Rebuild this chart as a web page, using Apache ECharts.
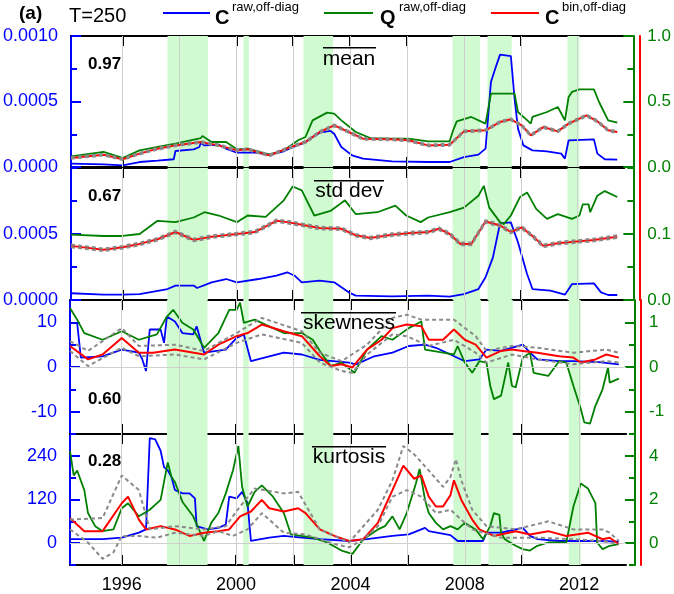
<!DOCTYPE html>
<html><head><meta charset="utf-8">
<script src="https://cdn.jsdelivr.net/npm/echarts@6/dist/echarts.min.js"></script>
<style>html,body{margin:0;padding:0;background:#fff}#c{width:674px;height:594px}</style>
</head><body><div id="c"></div>
<script>
// ---------------- data ----------------
const yearTicks = [1996,1998,2000,2002,2004,2006,2008,2010,2012];
const yearLabels = [1996,2000,2004,2008,2012];
const shadedPeriods = [[1997.58,1999.0],[2000.25,2000.44],[2002.36,2003.40],[2007.60,2008.57],[2008.83,2009.68],[2011.64,2012.06]];
const panelNames = ['mean','std dev','skewness','kurtosis'];
const panelCorr = ['0.97','0.67','0.60','0.28'];

// tick values / labels
const meanLeftTicks = [0,0.0005,0.001];
const meanRightTicks = [0,0.5,1];
const stdLeftTicks = [0,0.0005];
const stdRightTicks = [0,0.1];
const skewLeftTicks = [-10,0,10];
const skewRightTicks = [-1,0,1];
const kurtLeftTicks = [0,120,240];
const kurtRightTicks = [0,2,4];

// mean panel
const meanBlue = [[1994.19,0.000025],[1995.33,0.00002],[1996.00,0.000013],[1996.60,0.000038],[1997.23,0.000048],[1997.80,0.000059],[1997.86,0.000122],[1998.50,0.000135],[1998.70,0.000153],[1998.75,0.000183],[1998.88,0.000165],[1999.38,0.00017],[1999.64,0.00014],[2000.02,0.000109],[2000.65,0.000109],[2001.16,0.000094],[2001.67,0.00012],[2001.92,0.000145],[2002.43,0.00019],[2002.68,0.000229],[2002.93,0.000262],[2003.31,0.000275],[2003.44,0.000254],[2003.69,0.000153],[2004.07,0.000089],[2004.45,0.000064],[2005.47,0.000043],[2006.74,0.000038],[2007.50,0.000038],[2008.00,0.000076],[2008.51,0.000094],[2008.76,0.00014],[2008.95,0.000649],[2009.14,0.000776],[2009.27,0.000858],[2009.65,0.000847],[2009.78,0.000522],[2009.90,0.000293],[2010.09,0.000165],[2010.41,0.000127],[2010.92,0.00012],[2011.42,0.000102],[2011.55,0.000064],[2011.68,0.000204],[2012.57,0.000211],[2012.69,0.000102],[2012.95,0.000059],[2013.39,0.000056]];
const meanGreen = [[1994.19,0.081],[1995.33,0.115],[1996.00,0.069],[1996.60,0.127],[1997.23,0.153],[1997.86,0.178],[1998.75,0.221],[1998.81,0.237],[1999.13,0.191],[1999.64,0.191],[2000.02,0.135],[2000.40,0.14],[2001.16,0.094],[2001.67,0.127],[2002.17,0.204],[2002.43,0.229],[2002.68,0.356],[2003.19,0.415],[2003.44,0.407],[2003.69,0.356],[2004.20,0.267],[2004.71,0.221],[2005.47,0.216],[2006.04,0.216],[2006.74,0.196],[2007.50,0.196],[2007.62,0.28],[2007.75,0.349],[2008.26,0.382],[2008.76,0.331],[2008.95,0.56],[2009.78,0.56],[2009.90,0.42],[2010.16,0.369],[2010.35,0.331],[2010.41,0.382],[2010.92,0.42],[2011.30,0.458],[2011.55,0.356],[2011.68,0.534],[2011.80,0.573],[2012.06,0.593],[2012.57,0.593],[2012.75,0.496],[2013.07,0.356],[2013.39,0.338]];
const meanRed = [[1994.19,0.069],[1995.33,0.094],[1996.00,0.059],[1996.60,0.102],[1997.23,0.14],[1997.86,0.165],[1998.75,0.191],[1999.38,0.165],[2000.02,0.127],[2000.40,0.135],[2001.16,0.089],[2001.92,0.153],[2002.43,0.191],[2002.93,0.267],[2003.44,0.318],[2003.95,0.267],[2004.45,0.216],[2005.47,0.211],[2006.04,0.204],[2006.74,0.165],[2007.50,0.17],[2008.00,0.272],[2008.76,0.28],[2009.27,0.344],[2009.65,0.364],[2010.03,0.318],[2010.35,0.242],[2010.79,0.305],[2011.30,0.272],[2011.68,0.331],[2012.31,0.394],[2012.69,0.349],[2013.07,0.28],[2013.39,0.267]];
const meanGrayHi = [[1994.19,0.075],[1995.33,0.1],[1996.00,0.066],[1996.60,0.108],[1997.23,0.147],[1997.86,0.172],[1998.75,0.198],[1999.38,0.172],[2000.02,0.134],[2000.40,0.142],[2001.16,0.096],[2001.92,0.16],[2002.43,0.198],[2002.93,0.274],[2003.44,0.326],[2003.95,0.275],[2004.45,0.223],[2005.47,0.218],[2006.04,0.211],[2006.74,0.172],[2007.50,0.177],[2008.00,0.279],[2008.76,0.287],[2009.27,0.351],[2009.65,0.371],[2010.03,0.325],[2010.35,0.249],[2010.79,0.312],[2011.30,0.279],[2011.68,0.338],[2012.31,0.401],[2012.69,0.356],[2013.07,0.287],[2013.39,0.274]];
const meanGrayLo = [[1994.19,0.063],[1995.33,0.088],[1996.00,0.053],[1996.60,0.096],[1997.23,0.133],[1997.86,0.158],[1998.75,0.184],[1999.38,0.158],[2000.02,0.12],[2000.40,0.128],[2001.16,0.082],[2001.92,0.146],[2002.43,0.184],[2002.93,0.26],[2003.44,0.31],[2003.95,0.26],[2004.45,0.209],[2005.47,0.204],[2006.04,0.197],[2006.74,0.158],[2007.50,0.163],[2008.00,0.265],[2008.76,0.273],[2009.27,0.337],[2009.65,0.357],[2010.03,0.311],[2010.35,0.235],[2010.79,0.298],[2011.30,0.265],[2011.68,0.324],[2012.31,0.387],[2012.69,0.342],[2013.07,0.273],[2013.39,0.26]];

// std dev panel
const stdBlue = [[1994.19,0.000051],[1995.33,0.00004],[1996.00,0.00004],[1996.60,0.000045],[1997.58,0.000083],[1997.86,0.000109],[1998.50,0.000109],[1998.62,0.000091],[1999.13,0.000134],[1999.64,0.000159],[2000.02,0.000134],[2000.78,0.000159],[2001.41,0.000184],[2001.79,0.00021],[2002.05,0.000184],[2002.30,0.000134],[2002.93,0.000146],[2003.44,0.000134],[2003.95,0.000058],[2004.20,0.000033],[2005.47,0.000028],[2006.74,0.000033],[2007.50,0.000025],[2008.00,0.000045],[2008.51,0.000083],[2008.76,0.000172],[2009.02,0.000323],[2009.27,0.000581],[2009.65,0.000588],[2009.90,0.000437],[2010.22,0.000197],[2010.41,0.000083],[2011.04,0.000071],[2011.55,0.00004],[2011.80,0.000121],[2012.57,0.000126],[2012.82,0.000058],[2013.07,0.000038],[2013.39,0.000038]];
const stdGreen = [[1994.19,0.099],[1995.33,0.097],[1996.00,0.097],[1996.60,0.1],[1997.23,0.12],[1997.86,0.118],[1998.50,0.125],[1998.88,0.133],[1999.38,0.128],[2000.02,0.118],[2000.40,0.128],[2001.03,0.126],[2001.67,0.151],[2001.98,0.172],[2002.30,0.166],[2002.74,0.128],[2003.31,0.135],[2003.82,0.151],[2004.20,0.13],[2004.96,0.133],[2005.59,0.143],[2005.97,0.128],[2006.48,0.118],[2006.74,0.125],[2007.50,0.133],[2008.00,0.14],[2008.51,0.158],[2008.70,0.173],[2008.89,0.14],[2009.27,0.118],[2009.40,0.115],[2009.65,0.128],[2009.97,0.156],[2010.22,0.163],[2010.54,0.138],[2010.92,0.123],[2011.30,0.13],[2011.80,0.123],[2012.06,0.128],[2012.18,0.145],[2012.38,0.145],[2012.44,0.133],[2012.69,0.158],[2012.95,0.165],[2013.39,0.156]];
const stdRed = [[1994.19,0.082],[1995.33,0.076],[1996.00,0.08],[1996.60,0.085],[1997.23,0.092],[1997.86,0.103],[1998.50,0.091],[1999.13,0.096],[2000.02,0.1],[2000.65,0.103],[2001.41,0.12],[2001.79,0.118],[2002.30,0.114],[2002.93,0.109],[2003.69,0.108],[2004.20,0.098],[2004.71,0.094],[2005.47,0.099],[2006.04,0.101],[2006.74,0.103],[2007.12,0.108],[2007.50,0.1],[2007.88,0.085],[2008.26,0.085],[2008.76,0.119],[2009.27,0.113],[2009.65,0.103],[2010.03,0.11],[2010.41,0.097],[2010.79,0.082],[2011.30,0.086],[2012.06,0.089],[2012.57,0.091],[2013.39,0.096]];
const stdGrayHi = [[1994.19,0.084],[1995.33,0.078],[1996.00,0.082],[1996.60,0.087],[1997.23,0.094],[1997.86,0.105],[1998.50,0.093],[1999.13,0.098],[2000.02,0.102],[2000.65,0.105],[2001.41,0.122],[2001.79,0.12],[2002.30,0.116],[2002.93,0.111],[2003.69,0.11],[2004.20,0.1],[2004.71,0.096],[2005.47,0.101],[2006.04,0.103],[2006.74,0.105],[2007.12,0.11],[2007.50,0.102],[2007.88,0.087],[2008.26,0.087],[2008.76,0.121],[2009.27,0.115],[2009.65,0.105],[2010.03,0.112],[2010.41,0.099],[2010.79,0.084],[2011.30,0.088],[2012.06,0.091],[2012.57,0.093],[2013.39,0.098]];
const stdGrayLo = [[1994.19,0.08],[1995.33,0.074],[1996.00,0.078],[1996.60,0.083],[1997.23,0.09],[1997.86,0.101],[1998.50,0.089],[1999.13,0.094],[2000.02,0.098],[2000.65,0.101],[2001.41,0.118],[2001.79,0.116],[2002.30,0.112],[2002.93,0.107],[2003.69,0.106],[2004.20,0.096],[2004.71,0.092],[2005.47,0.097],[2006.04,0.099],[2006.74,0.101],[2007.12,0.106],[2007.50,0.098],[2007.88,0.083],[2008.26,0.083],[2008.76,0.117],[2009.27,0.111],[2009.65,0.101],[2010.03,0.108],[2010.41,0.095],[2010.79,0.08],[2011.30,0.084],[2012.06,0.087],[2012.57,0.089],[2013.39,0.094]];

// skewness panel
const skewBlue = [[1994.19,9.9],[1994.44,9.9],[1994.57,2.1],[1995.33,2.4],[1996.00,3.9],[1996.60,3.2],[1996.72,1.7],[1996.85,-0.9],[1996.98,8.4],[1997.36,8.4],[1997.48,5.4],[1997.58,11.3],[1997.86,10.2],[1998.12,7.6],[1998.50,7.3],[1998.62,9.1],[1998.88,3.2],[1999.64,3.9],[2000.02,6.5],[2000.27,7.3],[2000.52,1.3],[2001.16,2.4],[2001.67,3.2],[2002.30,2.8],[2002.93,1.6],[2003.95,1.0],[2004.20,0.6],[2004.83,2.4],[2005.47,3.2],[2006.04,4.7],[2006.61,5.0],[2006.99,4.3],[2007.50,2.8],[2008.00,1.3],[2008.51,1.7],[2008.76,3.9],[2009.27,3.6],[2010.03,5.0],[2010.28,3.2],[2010.54,1.7],[2011.30,1.3],[2011.80,1.3],[2012.69,1.1],[2013.39,0.6]];
const skewGreen = [[1994.19,1.32],[1994.44,1.06],[1994.69,0.76],[1995.33,0.61],[1996.00,0.8],[1996.60,0.61],[1997.23,0.73],[1997.58,1.13],[1997.80,1.28],[1998.12,0.99],[1998.50,0.84],[1998.88,0.43],[1999.38,0.76],[1999.76,1.28],[2000.02,1.28],[2000.14,1.44],[2000.27,0.99],[2000.65,1.06],[2001.16,0.91],[2001.67,0.76],[2002.30,0.76],[2002.68,0.61],[2002.93,0.36],[2003.31,0.02],[2003.69,0.1],[2004.14,-0.13],[2004.58,0.39],[2005.09,0.69],[2005.47,0.61],[2006.04,0.87],[2006.48,1.02],[2006.61,0.39],[2007.24,0.32],[2007.62,0.28],[2007.75,0.47],[2008.00,0.1],[2008.26,-0.13],[2008.51,0.13],[2008.76,0.1],[2008.89,-0.42],[2009.02,-0.72],[2009.27,-0.64],[2009.52,0.1],[2009.65,-0.42],[2009.78,-0.46],[2010.03,0.21],[2010.28,0.32],[2010.41,-0.13],[2010.92,-0.2],[2011.30,0.13],[2011.55,0.1],[2011.80,-0.42],[2012.06,-0.94],[2012.18,-1.24],[2012.38,-1.27],[2012.57,-0.87],[2012.82,-0.5],[2013.01,-0.01],[2013.07,-0.35],[2013.39,-0.26]];
const skewRed = [[1994.19,0.47],[1994.82,0.17],[1995.33,0.28],[1996.00,0.65],[1996.60,0.32],[1997.10,0.32],[1997.86,0.39],[1998.88,0.28],[1999.38,0.5],[2000.02,0.69],[2000.40,0.76],[2000.90,0.95],[2001.67,0.8],[2002.30,0.69],[2002.93,0.24],[2003.31,0.02],[2003.69,0.06],[2004.07,-0.01],[2004.58,0.39],[2005.09,0.61],[2005.47,0.87],[2005.97,0.95],[2006.48,0.91],[2006.74,0.61],[2007.24,0.61],[2007.62,0.84],[2008.00,0.61],[2008.38,0.5],[2008.76,0.21],[2009.27,0.36],[2009.65,0.39],[2010.03,0.36],[2010.54,0.32],[2011.30,0.24],[2011.80,0.21],[2012.06,0.1],[2012.57,0.17],[2012.95,0.28],[2013.39,0.21]];
const skewGrayHi = [[1994.19,0.58],[1994.82,0.36],[1996.00,0.87],[1996.60,0.47],[1997.86,0.5],[1998.88,0.36],[2000.02,0.76],[2000.90,1.1],[2002.30,0.8],[2002.93,0.32],[2003.69,0.13],[2004.58,0.5],[2005.47,1.1],[2005.97,1.17],[2006.48,1.06],[2007.62,1.06],[2008.38,0.69],[2008.76,0.36],[2009.65,0.47],[2010.54,0.43],[2011.80,0.32],[2012.95,0.39],[2013.39,0.32]];
const skewGrayLo = [[1994.19,0.36],[1994.82,0.02],[1996.00,0.43],[1996.60,0.24],[1997.86,0.28],[1998.88,0.17],[2000.02,0.54],[2000.90,0.73],[2002.30,0.54],[2002.93,0.1],[2003.69,-0.09],[2004.07,-0.13],[2004.58,0.28],[2005.47,0.73],[2005.97,0.69],[2006.74,0.47],[2007.62,0.61],[2008.38,0.32],[2008.76,0.1],[2009.65,0.28],[2010.54,0.17],[2011.80,0.06],[2012.95,0.13],[2013.39,0.1]];

// kurtosis panel
const kurtBlue = [[1994.19,11],[1995.33,11],[1996.00,15],[1996.60,29],[1996.85,38],[1996.98,289],[1997.17,285],[1997.36,254],[1997.48,209],[1997.61,200],[1997.74,182],[1997.86,146],[1998.12,137],[1998.37,137],[1998.56,123],[1998.62,47],[1999.00,38],[1999.38,42],[1999.64,51],[1999.76,128],[2000.02,123],[2000.21,141],[2000.40,110],[2000.52,6],[2001.16,15],[2001.67,20],[2002.30,15],[2002.93,11],[2003.95,6],[2004.58,11],[2005.47,20],[2006.04,24],[2006.61,42],[2006.74,33],[2007.50,22],[2007.75,6],[2008.64,6],[2008.76,29],[2009.27,29],[2010.03,42],[2010.28,20],[2010.54,11],[2011.30,6],[2012.69,6],[2013.39,4]];
const kurtGreen = [[1994.19,4.22],[1994.32,3.1],[1994.44,3.33],[1994.69,2.43],[1994.82,1.38],[1995.07,0.78],[1995.33,0.55],[1995.71,0.63],[1996.00,1.6],[1996.22,1.83],[1996.60,1.23],[1996.98,1.53],[1997.36,1.98],[1997.61,3.7],[1997.74,3.03],[1997.86,2.8],[1998.12,1.9],[1998.50,1.23],[1998.75,0.48],[1998.88,0.1],[1999.13,0.93],[1999.38,1.38],[1999.64,2.28],[1999.89,3.33],[2000.08,4.45],[2000.21,2.58],[2000.40,1.68],[2000.65,2.35],[2000.90,2.65],[2001.29,2.13],[2001.67,1.38],[2001.92,0.4],[2002.68,0.25],[2003.19,0.03],[2003.69,-0.34],[2004.07,-0.49],[2004.45,0.18],[2004.96,0.63],[2005.21,0.78],[2005.47,1.23],[2005.72,0.63],[2005.97,1.38],[2006.29,2.73],[2006.42,3.4],[2006.61,1.98],[2006.74,1.38],[2006.99,0.93],[2007.24,0.63],[2007.50,0.78],[2007.75,0.63],[2008.00,0.93],[2008.38,0.63],[2008.64,0.18],[2008.89,0.78],[2009.02,1.38],[2009.21,1.3],[2009.27,0.48],[2009.40,0.18],[2009.78,-0.12],[2010.03,-0.27],[2010.28,-0.34],[2010.54,-0.12],[2010.92,0.03],[2011.55,0.03],[2011.80,1.68],[2012.06,2.73],[2012.31,2.5],[2012.57,1.83],[2012.63,0.03],[2012.82,-0.27],[2013.07,-0.12],[2013.39,-0.04]];
const kurtRed = [[1994.19,1.15],[1994.69,0.55],[1995.33,0.55],[1996.00,1.83],[1996.22,2.13],[1996.60,1.08],[1996.85,0.63],[1997.36,0.78],[1997.86,0.63],[1998.37,0.33],[1998.88,0.48],[1999.38,0.55],[1999.76,0.63],[2000.14,1.23],[2000.52,1.45],[2000.90,1.98],[2001.16,1.6],[2001.67,1.45],[2002.17,1.6],[2002.43,1.38],[2002.93,0.63],[2003.44,0.33],[2003.95,0.1],[2004.45,0.18],[2004.96,0.93],[2005.21,1.68],[2005.47,2.43],[2005.85,3.55],[2006.23,2.95],[2006.48,3.1],[2006.74,2.13],[2006.99,1.68],[2007.24,1.68],[2007.50,2.2],[2007.62,2.88],[2007.88,1.98],[2008.26,1.08],[2008.51,0.63],[2009.02,0.33],[2009.78,0.55],[2010.28,0.4],[2010.92,0.55],[2011.55,0.33],[2012.31,0.48],[2012.82,0.18],[2013.07,0.25],[2013.39,-0.04]];
const kurtGrayHi = [[1994.19,1.08],[1995.33,1.15],[1996.00,3.1],[1996.60,2.43],[1996.98,0.63],[1997.86,0.78],[1998.88,0.63],[1999.64,0.78],[2000.14,1.68],[2000.65,2.5],[2001.67,2.28],[2002.17,2.35],[2002.93,0.63],[2003.95,0.03],[2004.96,1.53],[2005.47,2.88],[2005.85,4.45],[2006.23,4.07],[2006.74,3.33],[2007.24,2.58],[2007.50,3.03],[2007.69,3.85],[2007.88,2.88],[2008.26,1.53],[2008.76,0.78],[2009.78,0.63],[2010.92,1.0],[2011.80,0.63],[2012.82,0.63],[2013.07,0.48],[2013.39,0.1]];
const kurtGrayLo = [[1994.19,0.63],[1994.82,0.03],[1995.33,-0.72],[1995.71,-0.42],[1996.00,0.33],[1996.60,0.33],[1997.23,0.25],[1997.86,0.48],[1998.88,0.33],[1999.38,0.55],[1999.89,0.33],[2000.40,0.63],[2000.90,1.38],[2001.67,0.48],[2002.43,0.4],[2003.44,-0.04],[2003.95,-0.19],[2004.45,0.18],[2004.96,0.78],[2005.47,2.13],[2005.97,2.43],[2006.48,2.13],[2006.99,1.38],[2007.50,1.53],[2007.75,1.23],[2008.26,0.63],[2009.27,0.25],[2010.54,0.25],[2011.80,0.18],[2012.82,0.1],[2013.39,-0.04]];

// ---------------- chart ----------------
const FONT = '"Liberation Sans", Arial, Helvetica, sans-serif';
const BLUE = '#0000ff', GREEN = '#008000', RED = '#ff0000', GRAY = '#8a8a8a';
const X0 = 1994.19, X1 = 2013.64;

const panels = [
  {top:36, h:131, L:{min:0,max:0.001,minor:0.00025,ticks:meanLeftTicks,fmt:v=>v.toFixed(4)},
   R:{min:0,max:1,minor:0.25,ticks:meanRightTicks,fmt:v=>v.toFixed(1)},
   blue:meanBlue, green:meanGreen, red:meanRed, hi:meanGrayHi, lo:meanGrayLo, zero:false},
  {top:168, h:132, L:{min:0,max:0.001,minor:0.00025,ticks:stdLeftTicks,fmt:v=>v.toFixed(4)},
   R:{min:0,max:0.2,minor:0.05,ticks:stdRightTicks,fmt:v=>v.toFixed(1)},
   blue:stdBlue, green:stdGreen, red:stdRed, hi:stdGrayHi, lo:stdGrayLo, zero:false},
  {top:300, h:134, L:{min:-15,max:15,minor:5,ticks:skewLeftTicks,fmt:v=>String(v)},
   R:{min:-1.5,max:1.5,minor:0.5,ticks:skewRightTicks,fmt:v=>String(v)},
   blue:skewBlue, green:skewGreen, red:skewRed, hi:skewGrayHi, lo:skewGrayLo, zero:true},
  {top:434, h:132, L:{min:-60,max:300,minor:60,ticks:kurtLeftTicks,fmt:v=>String(v)},
   R:{min:-1,max:5,minor:1,ticks:kurtRightTicks,fmt:v=>String(v)},
   blue:kurtBlue, green:kurtGreen, red:kurtRed, hi:kurtGrayHi, lo:kurtGrayLo, zero:true}
];

const grid = [], xAxis = [], yAxis = [], series = [];
panels.forEach((p, i) => {
  grid.push({left:70, right:48, top:p.top, height:p.h});
  ['bottom','top'].forEach(pos => {
    xAxis.push({
      gridIndex:i, type:'value', position:pos, min:X0, max:X1,
      axisLine:{show:true, onZero:false, lineStyle:{color:'#000', width:2}},
      axisTick:{show:true, inside:true, length:10, lineStyle:{color:'#000', width:2}, customValues:yearTicks},
      axisLabel:{show:(pos==='bottom' && i===3), customValues:yearLabels, margin:11, fontSize:18, color:'#000', fontFamily:FONT, formatter:v=>String(v)},
      splitLine:{show:false}
    });
  });
  const base = yAxis.length;
  yAxis.push({gridIndex:i, type:'value', position:'left', min:p.L.min, max:p.L.max,
    axisLine:{show:true, onZero:false, lineStyle:{color:BLUE, width:2}},
    axisTick:{show:true, inside:true, length:10, lineStyle:{color:BLUE, width:2}, customValues:p.L.ticks},
    axisLabel:{show:true, customValues:p.L.ticks, formatter:p.L.fmt, color:BLUE, fontSize:18, fontFamily:FONT, margin:13},
    splitLine:{show:false}});
  yAxis.push({gridIndex:i, type:'value', position:'left', min:p.L.min, max:p.L.max, interval:p.L.minor,
    axisLine:{show:false}, axisTick:{show:true, inside:true, length:6, lineStyle:{color:BLUE, width:2}},
    axisLabel:{show:false}, splitLine:{show:false}});
  yAxis.push({gridIndex:i, type:'value', position:'right', offset:9, min:p.R.min, max:p.R.max,
    axisLine:{show:true, onZero:false, lineStyle:{color:GREEN, width:2}},
    axisTick:{show:true, inside:true, length:10, lineStyle:{color:GREEN, width:2}, customValues:p.R.ticks},
    axisLabel:{show:true, customValues:p.R.ticks, formatter:p.R.fmt, color:GREEN, fontSize:17, fontFamily:FONT, margin:14},
    splitLine:{show:false}});
  yAxis.push({gridIndex:i, type:'value', position:'right', offset:9, min:p.R.min, max:p.R.max, interval:p.R.minor,
    axisLine:{show:false}, axisTick:{show:true, inside:true, length:6, lineStyle:{color:GREEN, width:2}},
    axisLabel:{show:false}, splitLine:{show:false}});
  yAxis.push({gridIndex:i, type:'value', position:'right', offset:15, min:p.R.min, max:p.R.max,
    axisLine:{show:true, onZero:false, lineStyle:{color:RED, width:2}},
    axisTick:{show:false}, axisLabel:{show:false}, splitLine:{show:false}});

  const xi = i*2, yl = base, yr = base+2;
  const mlData = yearTicks.map(y => ({xAxis:y}));
  if (p.zero) mlData.push({yAxis:0});
  series.push({
    type:'line', xAxisIndex:xi, yAxisIndex:yr, data:[], z:1, silent:true,
    markArea:{silent:true, itemStyle:{color:'rgb(208,250,208)'},
      data: shadedPeriods.map(s => [{xAxis:s[0]},{xAxis:s[1]}])},
    markLine:{silent:true, symbol:['none','none'], label:{show:false}, animation:false,
      lineStyle:{color:'#cfcfcf', width:1, type:'solid'}, data: mlData}
  });
  const ln = (data, yIdx, color, width, dash, z) => ({
    type:'line', xAxisIndex:xi, yAxisIndex:yIdx, data, showSymbol:false, symbol:'none', z,
    lineStyle:{color, width, type:dash||'solid'}, silent:true
  });
  series.push(ln(p.blue, yl, BLUE, 1.8, null, 3));
  series.push(ln(p.green, yr, GREEN, 1.8, null, 4));
  series.push(ln(p.red, yr, RED, 2, null, 5));
  series.push(ln(p.hi, yr, GRAY, 2, [4,3], 6));
  series.push(ln(p.lo, yr, GRAY, 2, [4,3], 6));
});

// annotations
const graphic = [];
const txt = (x, y, text, font, fill, align) => ({type:'text', x, y, z:100, silent:true,
  style:{text, font, fill:fill||'#000', align:align||'left', verticalAlign:'middle'}});
const hline = (x1, x2, y, color, w) => ({type:'line', z:100, silent:true, shape:{x1, y1:y, x2, y2:y},
  style:{stroke:color, lineWidth:w}});
graphic.push(txt(19, 14, '(a)', 'bold 19px ' + FONT));
graphic.push(txt(69, 16, 'T=250', '20px ' + FONT));
graphic.push(hline(163, 210, 13, BLUE, 2));
graphic.push(txt(215, 18, 'C', 'bold 20px ' + FONT));
graphic.push(txt(232, 7, 'raw,off-diag', '13px ' + FONT));
graphic.push(hline(324, 373, 13, GREEN, 2));
graphic.push(txt(380, 18, 'Q', 'bold 20px ' + FONT));
graphic.push(txt(399, 7, 'raw,off-diag', '13px ' + FONT));
graphic.push(hline(491, 539, 13, RED, 2));
graphic.push(txt(545, 18, 'C', 'bold 20px ' + FONT));
graphic.push(txt(562, 7, 'bin,off-diag', '13px ' + FONT));

const nameY = [59, 191.5, 323.7, 457.7];
const overY = [47.7, 180.7, 312.7, 446.7];
const overX = [[323,376],[314,384],[301,396],[312,386]];
const corrY = [64.3, 196.3, 399.3, 461.7];
panels.forEach((p, i) => {
  graphic.push(txt(349, nameY[i], panelNames[i], '21px ' + FONT, '#000', 'center'));
  graphic.push(hline(overX[i][0], overX[i][1], overY[i], '#000', 1.5));
  graphic.push(txt(88, corrY[i], panelCorr[i], 'bold 17px ' + FONT));
});

const chart = echarts.init(document.getElementById('c'), null, {renderer:'canvas'});
chart.setOption({animation:false, backgroundColor:'#fff', grid, xAxis, yAxis, series, graphic});
</script>
</body></html>
